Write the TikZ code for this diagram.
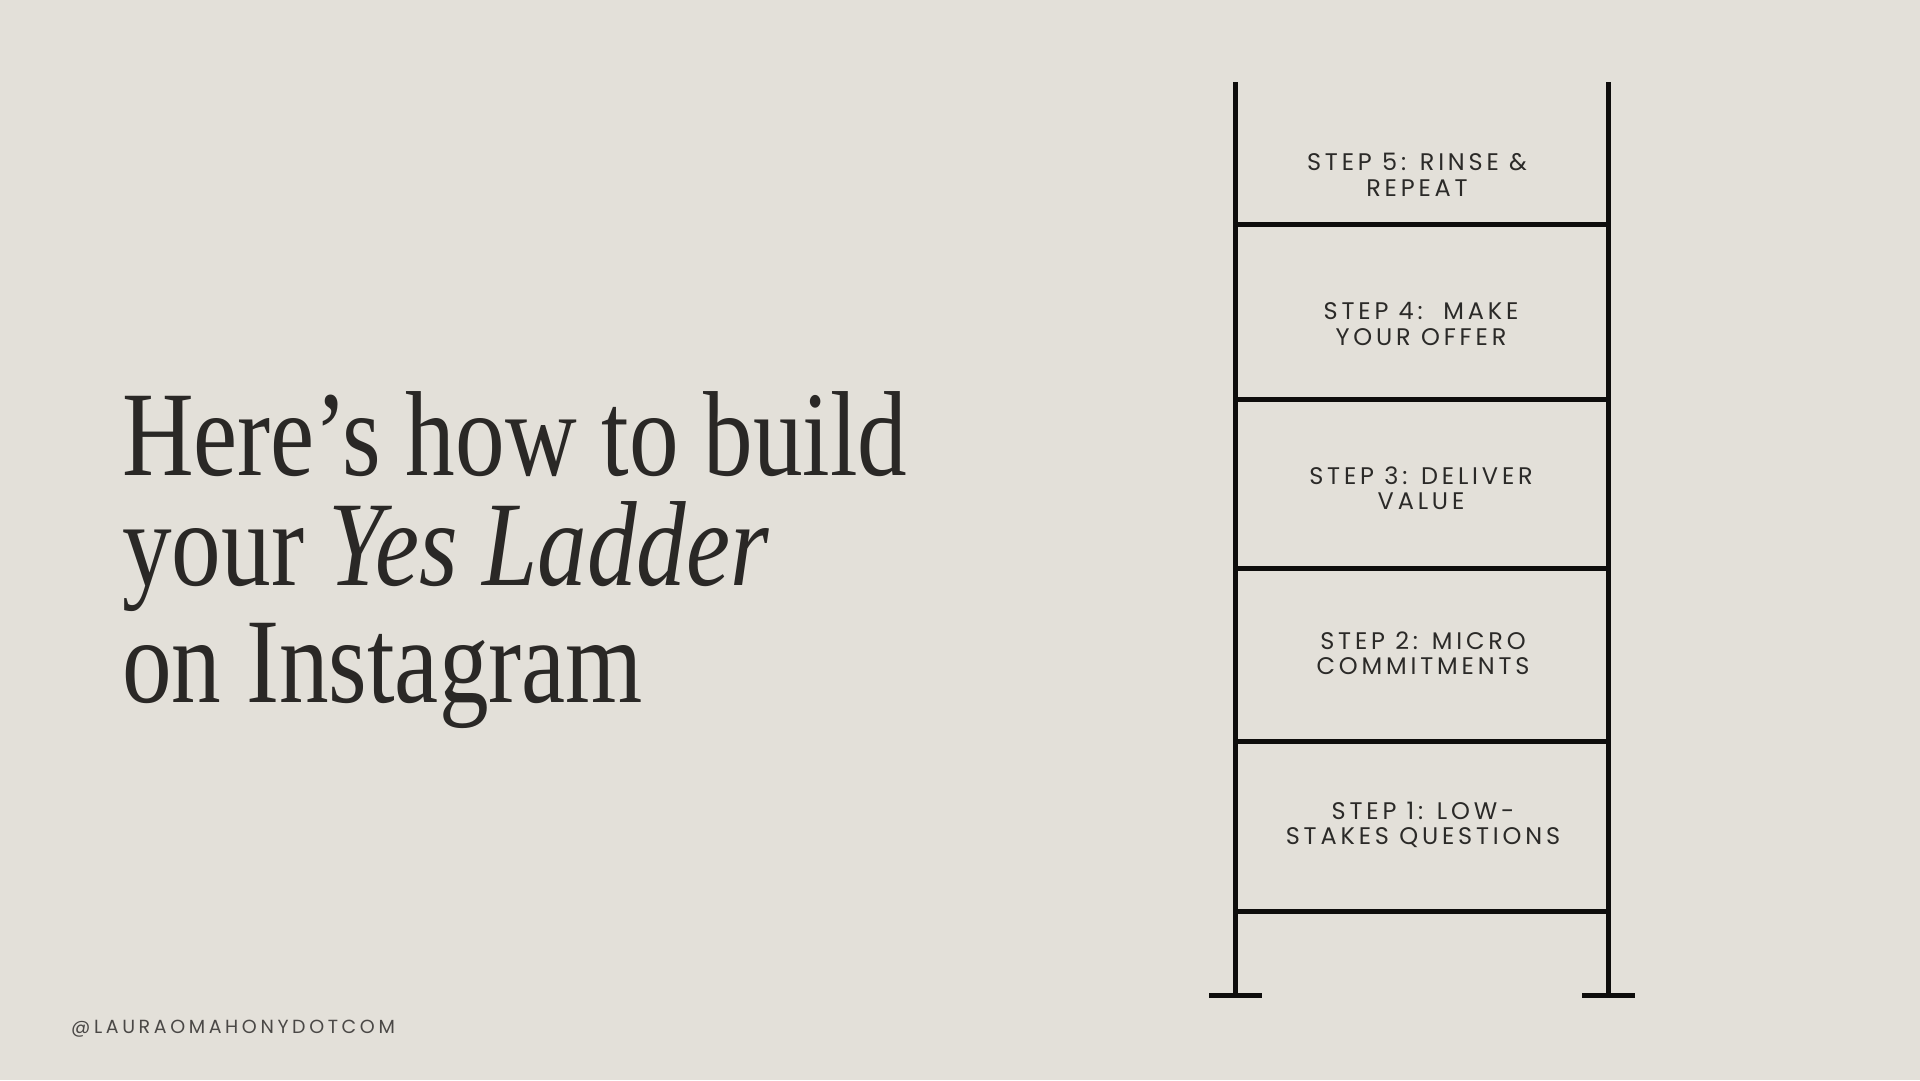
\documentclass[tikz,border=0pt]{standalone}
\usepackage{fontspec}
\newfontfamily\titlefont[FakeStretch=0.82]{Liberation Serif}
\newfontfamily\stepfont[LetterSpace=16]{Poppins}
\newfontfamily\footfont[LetterSpace=19]{Poppins}
\definecolor{bg}{HTML}{E3E0D9}
\definecolor{ink}{HTML}{0E0D0C}
\definecolor{titleink}{HTML}{2A2826}
\definecolor{stepink}{HTML}{2B2A28}
\definecolor{footink}{HTML}{4A4846}
\tikzset{
  rail/.style={line width=5pt, draw=ink},
  steplabel/.style={align=center, font=\stepfont\fontsize{24}{25.5}\selectfont, text=stepink, inner sep=0pt},
  titleline/.style={anchor=base west, inner sep=0pt, font=\titlefont\fontsize{121}{121}\selectfont, text=titleink},
}
\begin{document}
\begin{tikzpicture}[x=1pt,y=-1pt]
\fill[bg] (0,0) rectangle (1920,1080);
\useasboundingbox (0,0) rectangle (1920,1080);
% ladder coordinates
\coordinate (lt) at (1235,82);
\coordinate (rt) at (1608,82);
\coordinate (lb) at (1235,995);
\coordinate (rb) at (1608,995);
\draw[rail] (lt) -- (lb);
\draw[rail] (rt) -- (rb);
\draw[rail] (1209,995) coordinate (lf1) -- (1262,995) coordinate (lf2);
\draw[rail] (1582,995) coordinate (rf1) -- (1635,995) coordinate (rf2);
\foreach \y/\n in {224/a,399/b,568/c,741/d,911/e}{
  \draw[rail] (1235,\y) coordinate (r\n l) -- (1608,\y) coordinate (r\n r);
}
% step labels
\node[steplabel] (s5) at (1417,175) {STEP 5: RINSE \&\\REPEAT};
\node[steplabel] (s4) at (1421,324) {STEP 4:\ \ MAKE\\YOUR OFFER};
\node[steplabel] (s3) at (1421,488) {STEP 3: DELIVER\\VALUE};
\node[steplabel] (s2) at (1423,653) {STEP 2: MICRO\\COMMITMENTS};
\node[steplabel] (s1) at (1423,825) {STEP 1: LOW-\\STAKES QUESTIONS};
% title
\node[titleline] (t1) at (122,475) {Here’s how to build};
\node[titleline] (t2) at (122,585) {your \textit{Yes Ladder}};
\node[titleline] (t3) at (122,702) {on Instagram};
% footer
\node[anchor=base west, inner sep=0pt, font=\footfont\fontsize{19}{19}\selectfont, text=footink] (ft) at (71,1033) {@LAURAOMAHONYDOTCOM};
\end{tikzpicture}
\end{document}
